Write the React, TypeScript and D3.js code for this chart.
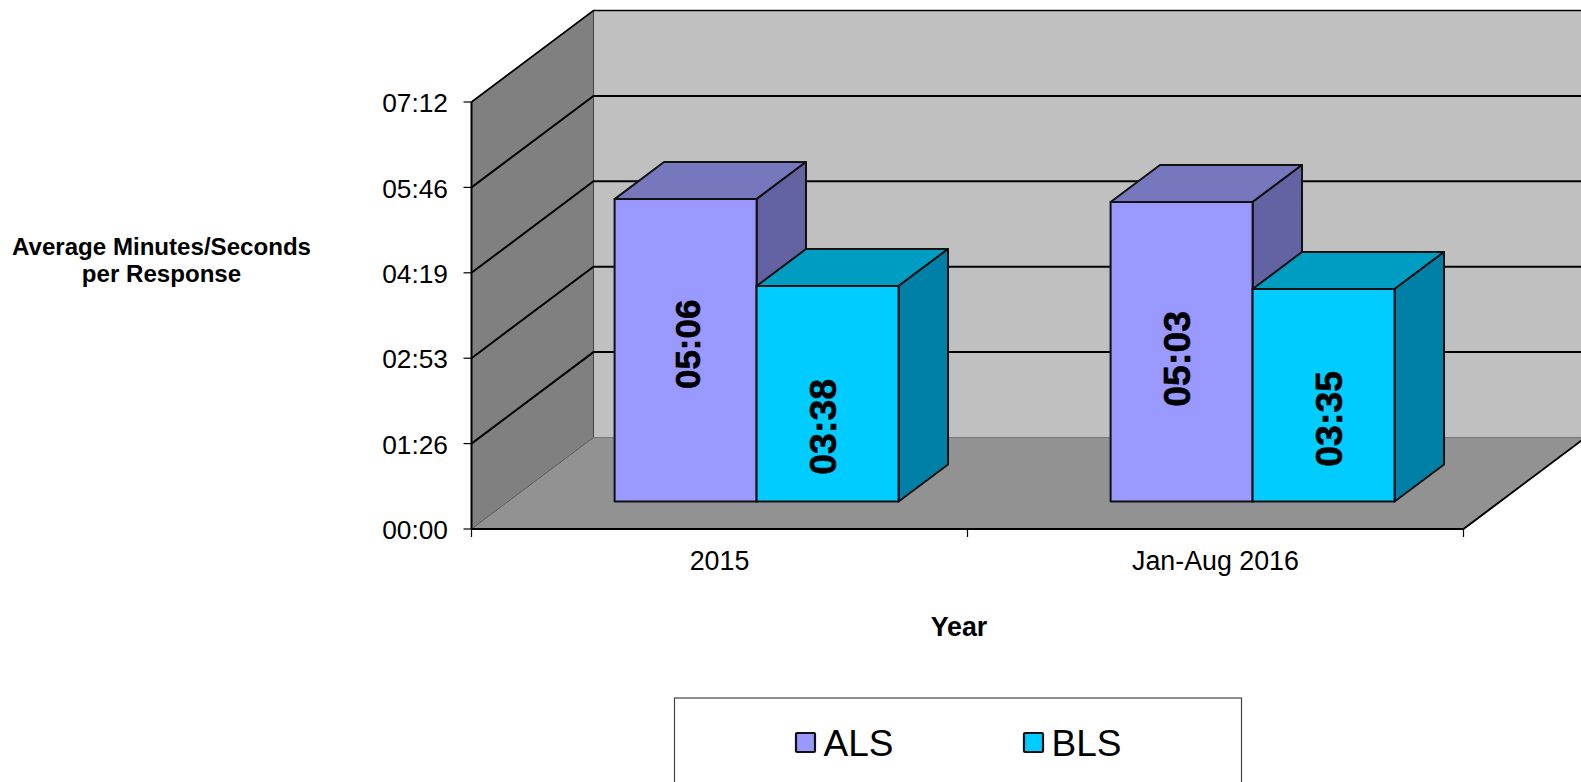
import React from "react";
import * as d3 from "d3";

// Average response time per year, in seconds, by unit level
const categories = ["2015", "Jan-Aug 2016"];
const seriesNames = ["ALS", "BLS"];
const alsSeconds = [306, 303];
const blsSeconds = [218, 215];
const tickSeconds = [0, 86.4, 172.8, 259.2, 345.6, 432];
const dataLabels = [["05:06", "03:38"], ["05:03", "03:35"]];
const tickLabels = ["00:00", "01:26", "02:53", "04:19", "05:46", "07:12"];

const WIDTH = 1581;
const HEIGHT = 782;
const FONT = "'Liberation Sans', Arial, sans-serif";

// Fill colours for each box: front, top and side faces
const faces = [
  { front: "#9999FF", top: "#7777BD", side: "#6363A3" },
  { front: "#00CCFF", top: "#009DC2", side: "#0080A6" },
];

// Oblique projection of the plot box
const xBand = d3.scaleBand<string>().domain(categories).range([471.5, 1463.5]);
const xSeries = d3.scaleBand<string>().domain(seriesNames).range([106.5, 390.5]);
const yValue = d3.scaleLinear().domain([0, 432]).range([529, 102]);
const depthX = d3.scaleLinear().domain([0, 1]).range([0, 122]);
const depthY = d3.scaleLinear().domain([0, 1]).range([0, -91.5]);

const BOX_FRONT = 0.3;
const BOX_BACK = 0.705;

// Hand-placed offsets and sizes of the value labels, per box
const labelShift = [
  [[1.5, -6], [-5, 33]],
  [[-5, 7], [4.5, 23.5]],
];
const labelSize = [[35, 37.5], [37.5, 37.5]];

const project = (x: number, seconds: number, depth: number): [number, number] => [
  x + depthX(depth),
  yValue(seconds) + depthY(depth),
];
const poly = (pts: [number, number][]) => d3.line()(pts) + "Z";

export default function App() {
  const left = xBand.range()[0];
  const right = xBand.range()[1];
  const seriesValues = [alsSeconds, blsSeconds];
  const wallLeft = poly([project(left, 0, 0), project(left, 432, 0), project(left, 432, 1), project(left, 0, 1)]);
  const wallBack = poly([project(left, 0, 1), project(left, 432, 1), project(right + 40, 432, 1), project(right + 40, 0, 1)]);
  const floor = poly([project(left, 0, 0), project(right, 0, 0), project(right, 0, 1), project(left, 0, 1)]);
  const tickXs = [...categories.map((c) => xBand(c) as number), right];

  return (
    <svg
      width={WIDTH}
      height={HEIGHT}
      viewBox={`0 0 ${WIDTH} ${HEIGHT}`}
      style={{ position: "absolute", left: 0, top: 0, background: "#fff" }}
      fontFamily={FONT}
    >
      <path d={wallBack} fill="#C0C0C0" />
      <path d={wallLeft} fill="#808080" stroke="#444" strokeWidth={1} />
      <path d={floor} fill="#929292" />
      <path d={d3.line()([project(left, 0, 1), project(right + 40, 0, 1)])!} stroke="#777" strokeWidth={1} fill="none" />
      <path d={d3.line()([project(left, 0, 0), project(left, 0, 1)])!} stroke="#666" strokeWidth={1} fill="none" />

      {tickSeconds.slice(1).map((s) => (
        <path
          key={s}
          d={d3.line()([project(left, s, 0), project(left, s, 1), project(right + 40, s, 1)])!}
          fill="none"
          stroke="#000"
          strokeWidth={s === 432 ? 1.6 : 2}
        />
      ))}

      {categories.map((cat, c) =>
        seriesNames.map((name, s) => {
          const value = seriesValues[s][c];
          const x0 = (xBand(cat) as number) + (xSeries(name) as number);
          const x1 = x0 + xSeries.bandwidth();
          const f = faces[s];
          const front = project(x0, value, BOX_FRONT);
          const frontEnd = project(x1, 0, BOX_FRONT);
          const cx = (front[0] + frontEnd[0]) / 2 + labelShift[c][s][0];
          const cy = (front[1] + frontEnd[1]) / 2 + labelShift[c][s][1];
          return (
            <g key={cat + name} stroke="#111" strokeWidth={2} strokeLinejoin="round">
              <path d={poly([project(x0, value, BOX_FRONT), project(x0, value, BOX_BACK), project(x1, value, BOX_BACK), project(x1, value, BOX_FRONT)])} fill={f.top} />
              <path d={poly([project(x1, value, BOX_FRONT), project(x1, value, BOX_BACK), project(x1, 0, BOX_BACK), project(x1, 0, BOX_FRONT)])} fill={f.side} />
              <path d={poly([project(x0, value, BOX_FRONT), project(x1, value, BOX_FRONT), project(x1, 0, BOX_FRONT), project(x0, 0, BOX_FRONT)])} fill={f.front} />
              <text
                transform={`translate(${cx},${cy}) rotate(-90)`}
                textAnchor="middle"
                dy="0.36em"
                fontSize={labelSize[c][s]}
                fontWeight="bold"
                fill="#000"
                stroke="#000"
                strokeWidth={0.6}
              >
                {dataLabels[c][s]}
              </text>
            </g>
          );
        })
      )}

      {/* Axes */}
      <path d={d3.line()([project(left, 0, 0), project(left, 432, 0)])!} stroke="#000" strokeWidth={2} fill="none" />
      <path d={d3.line()([project(left, 0, 0), project(right, 0, 0)])!} stroke="#000" strokeWidth={2.2} fill="none" />
      <path d={d3.line()([project(right, 0, 0), project(right, 0, 1)])!} stroke="#000" strokeWidth={2} fill="none" />
      {tickSeconds.map((s, i) => (
        <g key={s}>
          <line x1={left - 8} x2={left} y1={yValue(s)} y2={yValue(s)} stroke="#000" strokeWidth={1.2} />
          <text x={left - 23.5} y={yValue(s)} dy="0.39em" textAnchor="end" fontSize={26.3} fill="#000">
            {tickLabels[i]}
          </text>
        </g>
      ))}
      {tickXs.map((x) => (
        <line key={x} x1={x} x2={x} y1={529} y2={537} stroke="#000" strokeWidth={1.2} />
      ))}
      {categories.map((cat) => (
        <text
          key={cat}
          x={(xBand(cat) as number) + xBand.bandwidth() / 2}
          y={570}
          textAnchor="middle"
          fontSize={26.8}
          fill="#000"
        >
          {cat}
        </text>
      ))}

      {/* Axis titles */}
      <text x={161.5} y={255} textAnchor="middle" fontSize={24.1} fontWeight="bold">Average Minutes/Seconds</text>
      <text x={161.5} y={282} textAnchor="middle" fontSize={24.1} fontWeight="bold">per Response</text>
      <text x={959} y={636} textAnchor="middle" fontSize={26.8} fontWeight="bold">Year</text>

      {/* Legend; its box runs off the bottom edge */}
      <rect x={674.5} y={698} width={567} height={120} fill="#fff" stroke="#444" strokeWidth={1.2} />
      {seriesNames.map((name, i) => (
        <g key={name}>
          <rect x={796 + i * 228} y={733} width={19} height={19} rx={1} fill={faces[i].front} stroke="#111" strokeWidth={2.2} />
          <text x={823.5 + i * 228} y={756} fontSize={37} fill="#000">{name}</text>
        </g>
      ))}
    </svg>
  );
}
